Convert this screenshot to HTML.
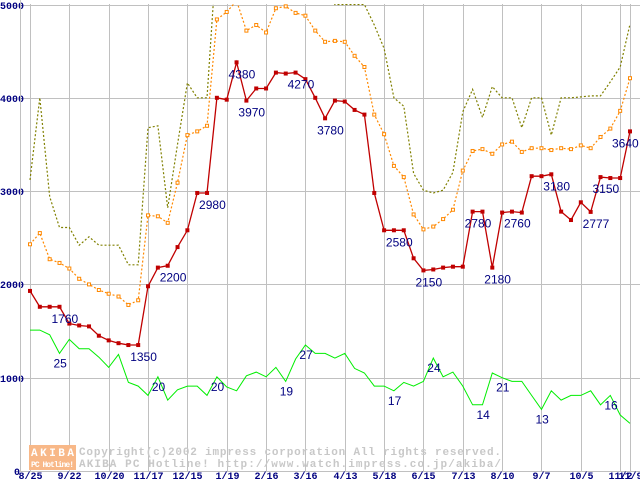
<!DOCTYPE html>
<html><head><meta charset="utf-8"><style>
html,body{margin:0;padding:0;background:#fff;}
svg{display:block;}
.tk{font-family:"Liberation Mono",monospace;font-size:10px;font-weight:bold;fill:#000080;}
.lb{font-family:"Liberation Sans",sans-serif;font-size:12px;fill:#000080;}
.wm{font-family:"Liberation Mono",monospace;font-size:11px;font-weight:bold;fill:#c8c8c8;}
</style></head><body>
<svg id="chart" width="640" height="480" viewBox="0 0 640 480"></svg>
<script>
const xLabels=["8/25","9/22","10/20","11/17","12/15","1/19","2/16","3/16","4/13","5/18","6/15","7/13","8/10","9/7","10/5","11/2","11/9"];
const yTicks=[0,1000,2000,3000,4000,5000];
const redValues=[1930,1760,1760,1760,1580,1560,1550,1450,1400,1370,1350,1350,1980,2180,2200,2400,2580,2980,2980,4000,3980,4380,3970,4100,4100,4270,4260,4270,4200,4000,3780,3970,3960,3870,3820,2980,2580,2580,2580,2280,2150,2160,2180,2190,2190,2780,2780,2180,2770,2780,2770,3160,3160,3180,2780,2690,2880,2777,3150,3140,3140,3640];
const orangeValues=[2430,2550,2270,2230,2170,2060,2000,1940,1900,1870,1780,1830,2740,2730,2660,3090,3600,3640,3700,4840,4920,5040,4720,4780,4700,4960,4980,4910,4880,4720,4600,4610,4600,4450,4330,3820,3610,3270,3150,2750,2590,2620,2700,2800,3220,3430,3450,3400,3500,3530,3420,3460,3460,3440,3460,3450,3490,3460,3580,3670,3860,4210];
const oliveValues=[3120,4000,2940,2610,2610,2420,2510,2420,2420,2420,2210,2210,3680,3700,2820,3500,4160,4000,4000,5600,5600,5600,5600,5600,5600,5600,5600,5600,5600,5600,5300,5000,5000,5000,5000,4780,4530,4000,3910,3190,3010,2980,3010,3200,3850,4090,3790,4120,4000,4000,3680,4000,4000,3600,4000,4000,4010,4020,4020,4170,4330,4790];
const greenValues=[1510,1510,1460,1260,1410,1310,1310,1220,1110,1250,950,910,810,1010,760,870,910,910,810,1010,900,860,1020,1060,1010,1110,960,1200,1350,1260,1260,1210,1260,1100,1050,910,910,860,950,910,960,1210,1010,1060,910,710,710,1050,1000,960,960,810,660,860,760,810,810,860,710,810,600,510];
const redLabelIdx=[3,11,14,18,21,22,27,30,37,40,45,47,49,53,57,58,61];
const redLabelText=["1760","1350","2200","2980","4380","3970","4270","3780","2580","2150","2780","2180","2760","3180","2777","3150","3640"];
const greenLabelIdx=[3,13,19,26,28,37,41,46,48,52,59];
const greenLabelText=["25","20","20","19","27","17","24","14","21","13","16"];

const NS="http://www.w3.org/2000/svg";
const svg=document.getElementById('chart');
const X0=30,DX=9.836,Y0=471,K=0.0933;
function x(i){return X0+i*DX;}
function y(v){return Y0-v*K;}
function el(t,a,p){const e=document.createElementNS(NS,t);for(const k in a)e.setAttribute(k,a[k]);(p||svg).appendChild(e);return e;}

const defs=el('defs',{});
const cp=el('clipPath',{id:'plot'},defs);
el('rect',{x:20,y:4,width:620,height:467},cp);

const grid=el('g',{stroke:'#c0c0c0','stroke-width':1});


yTicks.forEach(v=>{
  const l=el('line',{x1:20,x2:640,y1:Math.round(y(v))+.5,y2:Math.round(y(v))+.5},grid);
  
  
  const t=el('text',{x:v===0?14:0,y:Math.round(y(v))+4,class:'tk'});
  t.textContent=v;
  
  
});
xLabels.forEach((s,k)=>{
  const i=k<16?k*4:61;
  const xx=Math.round(x(i))+.5;
  const l=el('line',{x1:xx,x2:xx,y1:4,y2:471},grid);
  
  
  const t=el('text',{x:xx,y:479,class:'tk','text-anchor':'middle'});
  t.textContent=s;
  
  
});
el('line',{x1:20.5,x2:20.5,y1:0,y2:471,stroke:'#c0c0c0'});

// watermark
const wm=el('g',{});


el('rect',{x:29,y:445,width:47,height:25,fill:'#f8b888'},wm);
const a1=el('text',{x:31,y:456,class:'wm',style:'fill:#fff',textLength:43});a1.textContent='AKIBA';
const a2=el('text',{x:31,y:467,class:'wm',style:'fill:#fff;font-size:8px',textLength:43});a2.textContent='PC Hotline!';
const w1=el('text',{x:79,y:455,class:'wm',textLength:422},wm);w1.textContent='Copyright(c)2002 impress corporation All rights reserved.';
const w2=el('text',{x:79,y:467,class:'wm',textLength:422},wm);w2.textContent='AKIBA PC Hotline!  http://www.watch.impress.co.jp/akiba/';
wm.appendChild(a1);wm.appendChild(a2);

function pts(arr){return arr.map((v,i)=>x(i).toFixed(1)+','+y(v).toFixed(1)).join(' ');}
const plot=el('g',{'clip-path':'url(#plot)'});

const ol=el('polyline',{points:pts(oliveValues),fill:'none',stroke:'#808000','stroke-width':1.2,'stroke-dasharray':'2,2'},plot);



const gr=el('polyline',{points:pts(greenValues),fill:'none',stroke:'#00ee00','stroke-width':1},plot);



const or=el('polyline',{points:pts(orangeValues),fill:'none',stroke:'#ff8800','stroke-width':1.2,'stroke-dasharray':'2,2'},plot);


orangeValues.forEach((v,i)=>{
  const m=el('rect',{x:x(i)-1.5,y:y(v)-1.5,width:3,height:3,fill:'#fff',stroke:'#ff8800','stroke-width':1},plot);
  
  
});

const rd=el('polyline',{points:pts(redValues),fill:'none',stroke:'#c00000','stroke-width':1.3},plot);


redValues.forEach((v,i)=>{
  const m=el('rect',{x:x(i)-2,y:y(v)-2,width:4,height:4,fill:'#c00000'},plot);
  
  
});

redLabelIdx.forEach((i,k)=>{
  const xx=x(i)-8;
  const t=el('text',{x:Math.min(xx,640-28),y:y(redValues[i])+16,class:'lb'});
  t.textContent=redLabelText[k];
  
  
});
greenLabelIdx.forEach((i,k)=>{
  const t=el('text',{x:x(i)-6,y:y(greenValues[i])+14,class:'lb'});
  t.textContent=greenLabelText[k];
  
  
});
</script>
</body></html>
